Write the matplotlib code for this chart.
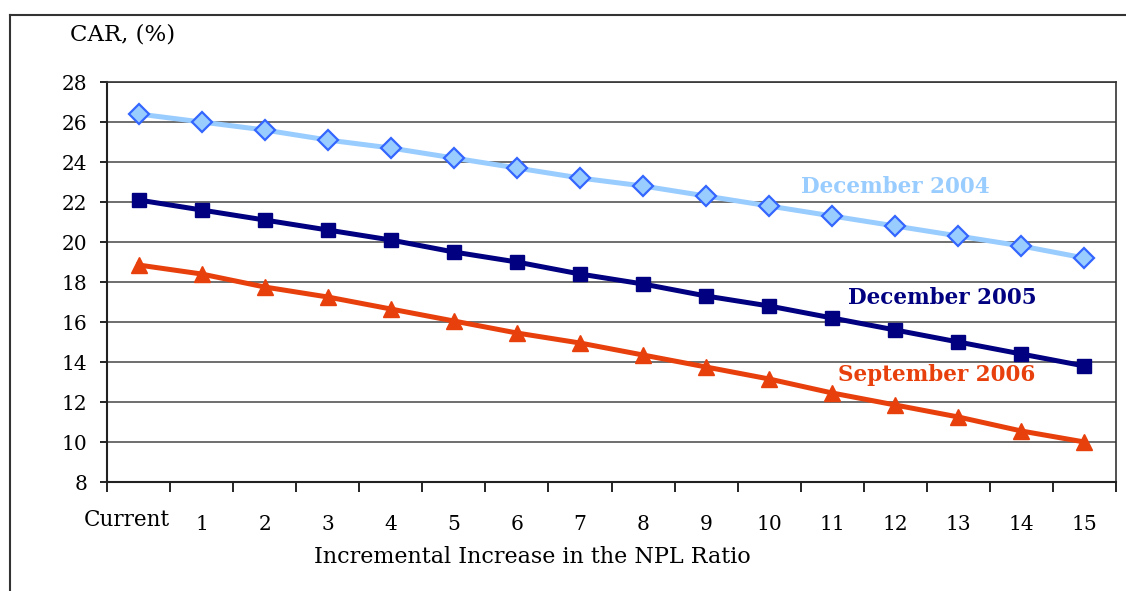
import matplotlib.pyplot as plt
import matplotlib.transforms as mtransforms
from matplotlib.lines import Line2D
import numpy as np

plt.rcParams['font.family'] = ['DejaVu Serif']

# donnees
categories = ["Current", "1", "2", "3", "4", "5", "6", "7", "8", "9", "10",
              "11", "12", "13", "14", "15"]
dec_2004 = [26.4, 26.0, 25.6, 25.1, 24.7, 24.2, 23.7, 23.2, 22.8, 22.3, 21.8,
            21.3, 20.8, 20.3, 19.8, 19.2]
dec_2005 = [22.1, 21.6, 21.1, 20.6, 20.1, 19.5, 19.0, 18.4, 17.9, 17.3, 16.8,
            16.2, 15.6, 15.0, 14.4, 13.8]
sep_2006 = [18.85, 18.4, 17.75, 17.25, 16.65, 16.05, 15.45, 14.95, 14.35, 13.75,
            13.15, 12.45, 11.85, 11.25, 10.55, 10.0]
y_ticks = [8, 10, 12, 14, 16, 18, 20, 22, 24, 26, 28]

fig = plt.figure(figsize=(11.26, 5.91), dpi=100)
ax = fig.add_axes([107/1126, 1 - 482/591, (1116-107)/1126, (482-82)/591])

x = np.arange(len(categories))

c04 = "#99CCFF"
c05 = "#000080"
c06 = "#E8400C"

ax.plot(x, dec_2004, color=c04, linewidth=3.6, marker="D", markersize=10.5,
        markerfacecolor=c04, markeredgecolor="#3366FF", markeredgewidth=1.6, zorder=3)
ax.plot(x, dec_2005, color=c05, linewidth=3.6, marker="s", markersize=10,
        markerfacecolor=c05, markeredgecolor=c05, zorder=3)
ax.plot(x, sep_2006, color=c06, linewidth=3.6, marker="^", markersize=11,
        markerfacecolor=c06, markeredgecolor=c06, zorder=3)

ax.set_xlim(-0.5, len(categories) - 0.5)
ax.set_ylim(8, 28)
ax.set_yticks(y_ticks)
ax.tick_params(axis="y", labelsize=14.5, length=5, width=1.2, pad=9, direction="out")
ax.yaxis.grid(True, color="#555555", linewidth=1.2)
ax.set_axisbelow(True)

# graduations aux limites des categories, libelles au centre
ax.set_xticks(x)
ax.set_xticklabels(categories)
ax.tick_params(axis="x", which="major", length=0, labelsize=14.5, pad=24)
ax.set_xticks(np.arange(-0.5, len(categories)), minor=True)
ax.tick_params(axis="x", which="minor", length=7, width=1.2, direction="out")
lab0 = ax.get_xticklabels()[0]
lab0.set_fontsize(15.5)
lab0.set_transform(lab0.get_transform() + mtransforms.ScaledTranslation(-12/100, 6/100, fig.dpi_scale_trans))

for sp in ["left", "bottom"]:
    ax.spines[sp].set_linewidth(1.5)
    ax.spines[sp].set_color("#222222")
for sp in ["top", "right"]:
    ax.spines[sp].set_linewidth(1.2)
    ax.spines[sp].set_color("#333333")

ax.text(12.0, 22.75, "December 2004", color=c04, fontsize=15.5, fontweight="bold",
        ha="center", va="center")
ax.text(12.75, 17.2, "December 2005", color=c05, fontsize=15.5, fontweight="bold",
        ha="center", va="center")
ax.text(12.65, 13.35, "September 2006", color=c06, fontsize=15.5, fontweight="bold",
        ha="center", va="center")

fig.text(70/1126, 1 - 35/591, "CAR, (%)", fontsize=16.5, ha="left", va="center")
fig.text(532/1126, 1 - 557/591, "Incremental Increase in the NPL Ratio",
         fontsize=16, ha="center", va="center")

# cadre autour du graphique
fig.add_artist(Line2D([10/1126, 10/1126], [0, 1 - 15/591], transform=fig.transFigure,
                      color="#333333", linewidth=1.5))
fig.add_artist(Line2D([10/1126, 1], [1 - 15/591, 1 - 15/591], transform=fig.transFigure,
                      color="#333333", linewidth=1.5))

fig.savefig("out.png", dpi=100)
